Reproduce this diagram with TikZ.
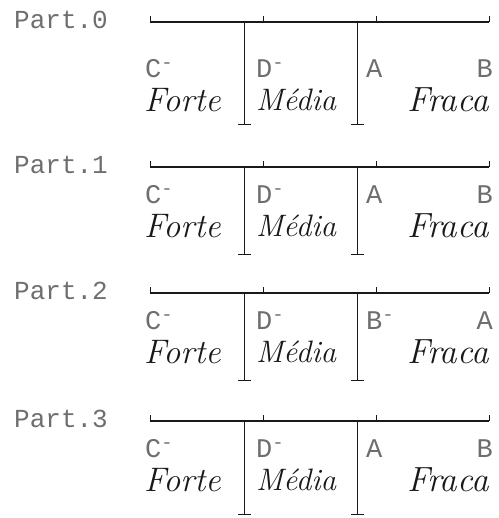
\documentclass[tikz,border=0pt]{standalone}
\usepackage{fontspec}
\newfontfamily\dotfont{Liberation Mono}
\usepackage{tikz}
\usetikzlibrary{arrows.meta}
\definecolor{inkdark}{RGB}{25,25,25}
\definecolor{inkgray}{RGB}{110,110,110}
\tikzset{
  mainline/.style={line width=2pt, color=inkdark},
  tickmark/.style={line width=1pt, color=inkdark},
  divider/.style={line width=0.8pt, color=inkdark,
    -{Bar[width=13pt, line width=1.1pt]}},
  partlabel/.style={anchor=west, inner sep=0pt,
    font=\fontsize{26}{26}\selectfont\dotfont, color=inkgray},
  keylabel/.style={inner sep=0pt,
    font=\fontsize{27}{27}\selectfont\dotfont, color=inkgray},
  word/.style={inner sep=0pt,
    font=\fontsize{#1}{#1}\selectfont\itshape, color=inkdark}
}

\begin{document}
\begin{tikzpicture}[x=1pt, y=-1pt]
  \useasboundingbox (0,0) rectangle (498,518);

  % One row per partition: scale line, dividers, labels
  % \yy = scale line, \dl = letters, \dw = words, \df = divider feet
  \foreach \k/\yy/\dl/\dw/\df/\la/\lb in {
      0/22/47/78/103/A/B,
      1/167/28/59/88/A/B,
      2/293/28/59/88/{B\textsuperscript{-}}/A,
      3/421/28/59/94/A/B} {
    \node[partlabel] (part\k) at (14,\yy-2) {Part.\k};

    % Scale line with small ticks
    \coordinate (left\k) at (150,\yy);
    \coordinate (right\k) at (489,\yy);
    \draw[mainline] (left\k) -- (right\k);
    \foreach \x in {150,263,376,489}
      \draw[tickmark] (\x,\yy) -- (\x,\yy-6);

    % Dividers between the classes
    \coordinate (cutA\k) at (244,\yy);
    \coordinate (footA\k) at (244,\yy+\df);
    \coordinate (cutB\k) at (357,\yy);
    \coordinate (footB\k) at (357,\yy+\df);
    \draw[divider] (cutA\k) -- (footA\k);
    \draw[divider] (cutB\k) -- (footB\k);

    % Letter labels
    \node[keylabel, anchor=west] (c\k) at (145,\yy+\dl) {C\textsuperscript{-}};
    \node[keylabel, anchor=west] (d\k) at (256,\yy+\dl) {D\textsuperscript{-}};
    \node[keylabel, anchor=west] (a\k) at (366,\yy+\dl) {\la};
    \node[keylabel, anchor=east] (b\k) at (493,\yy+\dl) {\lb};

    % Class names
    \node[word=34, anchor=west] (forte\k) at (144,\yy+\dw) {Forte};
    \node[word=31, anchor=west] (media\k) at (256,\yy+\dw) {Média};
    \node[word=35, anchor=east] (fraca\k) at (489,\yy+\dw) {Fraca};
  }
\end{tikzpicture}
\end{document}
